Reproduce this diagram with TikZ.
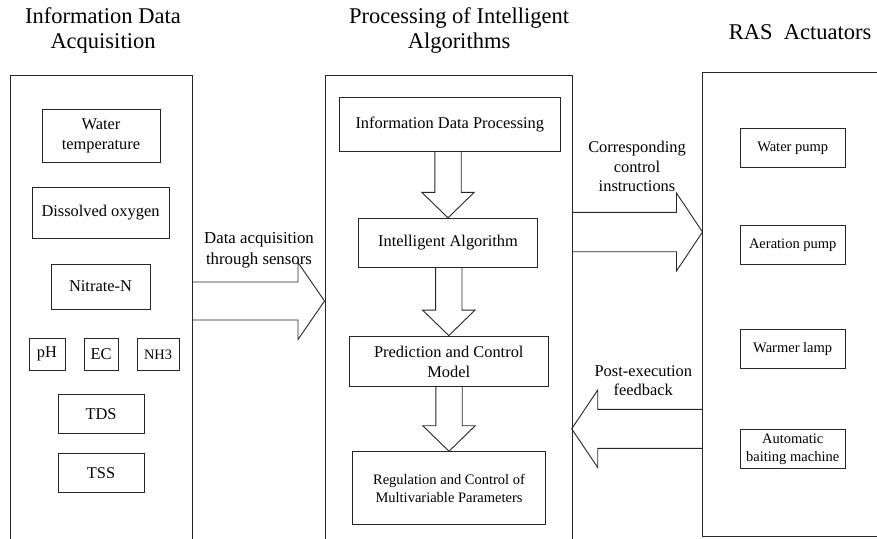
\documentclass[tikz,border=0pt]{standalone}
\usepackage{fontspec}
\setmainfont{Liberation Serif}
\usetikzlibrary{calc}
\newcommand\myfs[2]{\fontsize{#1}{#2}\selectfont}
\begin{document}
\begin{tikzpicture}[x=1pt,y=-1pt,line width=0.9pt,
  box/.style={draw=black!85,align=center,inner sep=0pt,font=\myfs{16.4}{20}},
  sbox/.style={box,font=\myfs{14.5}{18}},
  lbl/.style={align=center,inner sep=0pt,font=\myfs{16.8}{20.5}},
  head/.style={align=center,inner sep=0pt,font=\myfs{22.5}{25.5}},
  panel/.style={draw=black!85},
  blk/.style={draw=black!85,line join=miter}]
\useasboundingbox (0,0) rectangle (877,538);

% headers
\node[head] (h1) at (103,30.5) {Information Data\\Acquisition};
\node[head] (h2) at (459,30.5) {Processing of Intelligent\\Algorithms};
\node[head] (h3) at (800,32) {RAS\ \ Actuators};

% panels
\draw[panel] (10,539) -- (10,75) -- (192,75) -- (192,539);
\draw[panel] (325.7,539) -- (325.7,75) -- (572.5,75) -- (572.5,539);
\draw[panel] (878,72) -- (702,72) -- (702,536.8) -- (878,536.8);

% left column
\node[box,minimum width=118pt,minimum height=53pt] (wt) at (101,135.5) {Water\\temperature};
\node[box,minimum width=137pt,minimum height=51.5pt] (do) at (100.5,212.8) {Dissolved oxygen};
\node[box,minimum width=99pt,minimum height=45pt] (nn) at (100.5,286.5) {Nitrate-N};
\node[box,minimum width=36pt,minimum height=32.6pt] (ph) at (47,354.3) {pH};
\node[box,minimum width=34pt,minimum height=32.6pt] (ec) at (101,354.3) {EC};
\node[box,font=\myfs{14.4}{18},minimum width=42pt,minimum height=32.6pt] (nh) at (158,354.3) {NH3};
\node[box,minimum width=86pt,minimum height=39pt] (tds) at (101,414) {TDS};
\node[box,minimum width=86pt,minimum height=38.7pt] (tss) at (101,473) {TSS};

% middle column
\node[box,minimum width=221.7pt,minimum height=53.7pt] (idp) at (449.8,124.2) {Information Data Processing};
\node[box,minimum width=179.4pt,minimum height=49pt] (ia) at (448,242.8) {Intelligent Algorithm};
\node[box,minimum width=199pt,minimum height=50.7pt] (pcm) at (448.8,361.4) {Prediction and Control\\Model};
\node[sbox,minimum width=193.4pt,minimum height=72.6pt] (rcm) at (449,488) {Regulation and Control of\\Multivariable Parameters};

% right column
\node[sbox,minimum width=104.7pt,minimum height=39pt] (wp) at (792.7,147.8) {Water pump};
\node[sbox,minimum width=104.7pt,minimum height=39pt] (ap) at (792.7,245) {Aeration pump};
\node[sbox,minimum width=104.7pt,minimum height=39pt] (wl) at (792.7,348.8) {Warmer lamp};
\node[sbox,minimum width=104.7pt,minimum height=39pt] (abm) at (792.7,448.8) {Automatic\\baiting machine};

% vertical block arrows
\foreach \s/\t in {idp/ia,ia/pcm,pcm/rcm}{
  \draw[blk] let \p1=(\s.south), \p2=(\t.north) in
    (\x2-13.2pt,\y1) -- (\x2-13.2pt,\y2+25.5pt) -- (\x2-26.2pt,\y2+25.5pt) -- (\p2)
    -- (\x2+26.2pt,\y2+25.5pt) -- (\x2+13.2pt,\y2+25.5pt) -- (\x2+13.2pt,\y1);
}

% horizontal block arrows
\coordinate (lpR) at (192,301);
\coordinate (mpL) at (324.5,301);
\coordinate (mpR) at (572.5,232);
\coordinate (rpL) at (702.5,232);
\coordinate (rpL2) at (702,428.8);
\coordinate (mpR2) at (571.7,428.8);

\draw[blk] let \p1=(lpR), \p2=(mpL) in
  (\x1,\y1+19pt) -- (\x2-26.5pt,\y1+19pt) -- (\x2-26.5pt,\y1+38.5pt) -- (\p2)
  -- (\x2-26.5pt,\y1-38.5pt) -- (\x2-26.5pt,\y1-19pt) -- (\x1,\y1-19pt);
\draw[blk] let \p1=(mpR), \p2=(rpL) in
  (\x1,\y1+19.7pt) -- (\x2-26pt,\y1+19.7pt) -- (\x2-26pt,\y1+38.9pt) -- (\p2)
  -- (\x2-26pt,\y1-38.9pt) -- (\x2-26pt,\y1-19.7pt) -- (\x1,\y1-19.7pt);
\draw[blk] let \p1=(rpL2), \p2=(mpR2) in
  (\x1,\y1+19.5pt) -- (\x2+26pt,\y1+19.5pt) -- (\x2+26pt,\y1+38.7pt) -- (\p2)
  -- (\x2+26pt,\y1-38.7pt) -- (\x2+26pt,\y1-19.5pt) -- (\x1,\y1-19.5pt);

% arrow labels
\node[lbl] (l1) at (259,250) {Data acquisition\\through sensors};
\node[lbl,font=\myfs{16.4}{19.5}] (l2) at (637,166.5) {Corresponding\\control\\instructions};
\node[lbl,font=\myfs{16.4}{19.5}] (l3) at (643.3,380.5) {Post-execution\\feedback};
\end{tikzpicture}
\end{document}
